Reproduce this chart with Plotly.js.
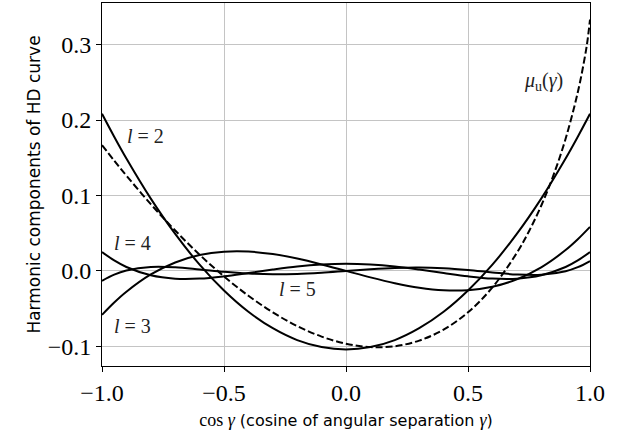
<!DOCTYPE html>
<html>
<head>
<meta charset="utf-8">
<script src="https://cdn.plot.ly/plotly-3.0.1.min.js"></script>
<style>html,body{margin:0;padding:0;background:#fff;}#chart{width:628px;height:430px;}</style>
</head>
<body>
<div id="chart"></div>
<script>
// cos(gamma) sample positions
const cosGamma = [-1,-0.95,-0.9,-0.8,-0.7,-0.6,-0.5,-0.4,-0.3,-0.2,-0.1,0,0.1,0.2,0.3,0.4,0.5,0.6,0.7,0.8,0.9,0.95,1];
const harmonicL2 = [0.2083,0.1779,0.1490,0.0958,0.0490,0.0083,-0.0260,-0.0542,-0.0760,-0.0917,-0.1010,-0.1042,-0.1010,-0.0917,-0.0760,-0.0542,-0.0260,0.0083,0.0490,0.0958,0.1490,0.1779,0.2083];
const harmonicL3 = [-0.0583,-0.0419,-0.0276,-0.0047,0.0112,0.0210,0.0255,0.0257,0.0223,0.0163,0.0086,0,-0.0086,-0.0163,-0.0223,-0.0257,-0.0255,-0.0210,-0.0112,0.0047,0.0276,0.0419,0.0583];
const harmonicL4 = [0.0250,0.0139,0.0052,-0.0058,-0.0103,-0.0102,-0.0072,-0.0028,0.0018,0.0058,0.0084,0.0094,0.0084,0.0058,0.0018,-0.0028,-0.0072,-0.0102,-0.0103,-0.0058,0.0052,0.0139,0.0250];
const harmonicL5 = [-0.0131,-0.0049,0.0005,0.0052,0.0048,0.0020,-0.0012,-0.0035,-0.0045,-0.0040,-0.0023,0,0.0023,0.0040,0.0045,0.0035,0.0012,-0.0020,-0.0048,-0.0052,-0.0005,0.0049,0.0131];
const cosGammaHD = [-1,-0.95,-0.9,-0.8,-0.7,-0.6,-0.5,-0.4,-0.3,-0.2,-0.1,0,0.1,0.2,0.3,0.4,0.5,0.6,0.7,0.75,0.8,0.85,0.9,0.95,0.98,0.99,1];
const hdCurve = [0.1667,0.1462,0.1263,0.0885,0.0535,0.0215,-0.0074,-0.0330,-0.0550,-0.0732,-0.0871,-0.0966,-0.1010,-0.0999,-0.0924,-0.0779,-0.0549,-0.0219,0.0238,0.0526,0.0864,0.1266,0.1752,0.2369,0.2856,0.3060,0.3333];
const xTicks = [-1.0,-0.5,0.0,0.5,1.0];
const xTickText = ['\u22121.0','\u22120.5','0.0','0.5','1.0'];
const yTicks = [-0.1,0.0,0.1,0.2,0.3];
const yTickText = ['\u22120.1','0.0','0.1','0.2','0.3'];
const curveLabels = [
  {text:'<i>l</i> = 2', x:-0.82, y:0.179},
  {text:'<i>l</i> = 4', x:-0.873, y:0.037},
  {text:'<i>l</i> = 3', x:-0.873, y:-0.073},
  {text:'<i>l</i> = 5', x:-0.197, y:-0.024},
  {text:'<i>μ</i><sub>u</sub>(<i>γ</i>)', x:0.811, y:0.251}
];

const serif = '"Liberation Serif", "DejaVu Serif", serif';
const sans = '"DejaVu Sans", sans-serif';
const line = {color:'#000', width:2, shape:'spline', smoothing:1};

const traces = [
  {x:cosGamma, y:harmonicL2, mode:'lines', line:line, name:'l=2'},
  {x:cosGamma, y:harmonicL3, mode:'lines', line:line, name:'l=3'},
  {x:cosGamma, y:harmonicL4, mode:'lines', line:line, name:'l=4'},
  {x:cosGamma, y:harmonicL5, mode:'lines', line:line, name:'l=5'},
  {x:cosGammaHD, y:hdCurve, mode:'lines', line:Object.assign({}, line, {dash:'7px,3px'}), name:'mu_u'}
];

const layout = {
  width:628, height:430,
  margin:{l:102, r:38, t:3, b:64},
  paper_bgcolor:'#fff', plot_bgcolor:'#fff',
  showlegend:false,
  xaxis:{
    range:[-1,1], tickvals:xTicks, ticktext:xTickText,
    showgrid:true, gridcolor:'#c4c4c4', gridwidth:1,
    zeroline:false, showline:true, linecolor:'#000', linewidth:1, mirror:true,
    ticks:'outside', ticklen:5, tickcolor:'#000', tickwidth:1,
    tickfont:{family:serif, size:24, color:'#000'},
    title:{text:'<span style="font-family:\'Liberation Serif\',serif;font-size:18px">cos <i>γ</i></span> (cosine of angular separation <span style="font-family:\'Liberation Serif\',serif;font-size:18px"><i>γ</i></span>)', font:{family:sans, size:16, color:'#000'}, standoff:10}
  },
  yaxis:{
    range:[-0.1261,0.3552], tickvals:yTicks, ticktext:yTickText,
    showgrid:true, gridcolor:'#c4c4c4', gridwidth:1,
    zeroline:false, showline:true, linecolor:'#000', linewidth:1, mirror:true,
    ticks:'outside', ticklen:5, tickcolor:'#000', tickwidth:1,
    tickfont:{family:serif, size:24, color:'#000'},
    title:{text:'Harmonic components of HD curve', font:{family:sans, size:17, color:'#000'}, standoff:2}
  },
  annotations: curveLabels.map(c => ({
    x:c.x, y:c.y, xref:'x', yref:'y', text:c.text, showarrow:false,
    font:{family:serif, size:20, color:'#222'}, xanchor:'center', yanchor:'middle'
  }))
};

Plotly.newPlot('chart', traces, layout, {displayModeBar:false, staticPlot:true});
</script>
</body>
</html>
